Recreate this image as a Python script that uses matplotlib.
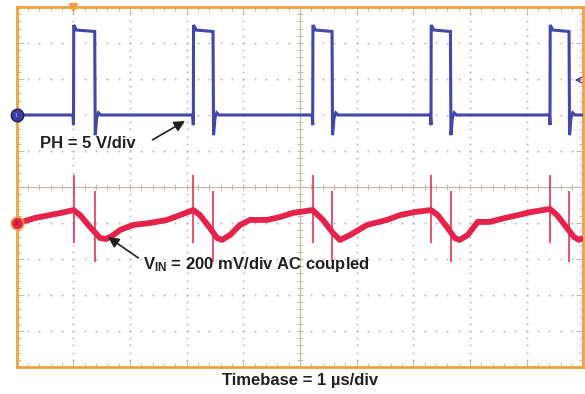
"""
 scope capture: PH switch node and VIN ripple
"""
import matplotlib
matplotlib.use('Agg')
import matplotlib.pyplot as plt
import numpy as np

plt.rcParams['font.family'] = ['Liberation Sans', 'DejaVu Sans']
plt.rcParams['mathtext.fontset'] = 'custom'
plt.rcParams['mathtext.rm'] = 'Liberation Sans'
plt.rcParams['mathtext.bf'] = 'Liberation Sans:bold'

# channel 1 : PH [V], 5 V/div
ph_rise = [1.006, 3.12, 5.227, 7.314, 9.414]   # us
ph_fall = [1.385, 3.473, 5.573, 7.662, 9.755]  # us
ph_low = 0.0
ph_high = [11.8, 11.6]      # start / end of pulse top
ph_over = 12.5              # overshoot on rising edge
ph_dip = -1.4               # dip before rising edge
ph_under = -2.8             # undershoot on falling edge

# channel 2 : VIN [mV], 200 mV/div AC coupled
vin_t = [0.000, 0.150, 0.326, 0.591, 0.856, 1.006, 1.121, 1.297, 1.473,
         1.579, 1.685, 1.827, 2.056, 2.356, 2.656, 2.886, 3.120, 3.238,
         3.414, 3.538, 3.626, 3.767, 3.944, 4.120, 4.420, 4.650, 4.879,
         5.227, 5.408, 5.585, 5.708, 5.885, 6.185, 6.538, 6.767, 7.032,
         7.314, 7.432, 7.609, 7.732, 7.820, 7.962, 8.138, 8.350, 8.620,
         8.850, 9.079, 9.414, 9.538, 9.714, 9.838, 9.926, 9.997]
vin_mv = [0, 11, 28, 44, 61, 72, 44, -22, -83,
          -89, -72, -39, -11, 0, 17, 44, 72, 44,
          -28, -83, -94, -67, -11, 17, 17, 33, 56,
          72, 17, -56, -94, -67, -11, 17, 44, 61,
          72, 44, -28, -83, -94, -67, 6, 6, 28,
          44, 61, 78, 44, -28, -78, -94, -83]
vin_spk_rise = [267, -111]  # mV, spike at PH rising edge
vin_spk_fall = [178, -217]  # mV, spike at PH falling edge

ch1_pos = 2.0    # div
ch2_pos = -1.0   # div
v_div1 = 5.0     # V/div
v_div2 = 200.0   # mV/div
trig_t = 1.0     # us
trig_lvl = 4.86  # V

# build PH trace
pt = [0.0]
pv = [ph_low]
for tr, tf in zip(ph_rise, ph_fall):
    pt += [tr - 0.01, tr, tr + 0.004, tr + 0.05, tf - 0.005, tf + 0.004,
           tf + 0.03, tf + 0.06, tf + 0.1]
    pv += [ph_low, ph_dip, ph_over, ph_high[0], ph_high[1], ph_under,
           -0.4, 0.3, ph_low]
pt.append(10.0)
pv.append(ph_low)
pt = np.array(pt)
pv = np.array(pv)

fig = plt.figure(figsize=(5.85, 3.94), dpi=100)
ax = fig.add_axes([16.5/585, 1-367/394, 566.7/585, 360/394])
ax.set_xlim(0, 10)
ax.set_ylim(-5, 5)

gcol = '#C4BCA8'
ax.set_xticks(np.arange(0, 11, 1))
ax.set_yticks(np.arange(-5, 6, 1))
ax.set_xticks(np.arange(0, 10.01, 0.2), minor=True)
ax.set_yticks(np.arange(-5, 5.01, 0.2), minor=True)
ax.tick_params(which='both', direction='in', top=True, right=True,
               labelleft=False, labelbottom=False, color=gcol, width=0.8)
ax.tick_params(which='major', length=5)
ax.tick_params(which='minor', length=3)
for s in ax.spines.values():
    s.set_color('#F2A03D')
    s.set_linewidth(2)

# dotted graticule
mn = np.arange(0.2, 10, 0.2)
mny = np.arange(-4.8, 5, 0.2)
for k in range(1, 10):
    if k != 5:
        ax.plot(np.full(len(mny), k), mny, ls='none', marker='s',
                ms=1.3, mew=0, color='#BDBDBD', zorder=1)
for k in range(-4, 5):
    if k != 0:
        ax.plot(mn, np.full(len(mn), k), ls='none', marker='s',
                ms=1.3, mew=0, color='#BDBDBD', zorder=1)

# center cross with ticks
ax.axhline(0, color=gcol, lw=0.9, zorder=1)
ax.axvline(5, color=gcol, lw=0.9, zorder=1)
ax.plot(mn, np.zeros(len(mn)), ls='none', marker='|', ms=5, mew=0.8,
        color=gcol, zorder=1)
ax.plot(np.full(len(mny), 5), mny, ls='none', marker='_', ms=5, mew=0.8,
        color=gcol, zorder=1)

# traces
ax.plot(pt, ch1_pos + pv/v_div1, color='#4446AA', lw=2.2, zorder=3,
        solid_joinstyle='miter')
vt = np.array(vin_t)
vv = np.array(vin_mv)
ax.plot(vt, ch2_pos + vv/v_div2, color='#E5224A', lw=4.2, zorder=4,
        solid_capstyle='butt', solid_joinstyle='round')
ax.vlines(ph_rise, ch2_pos + vin_spk_rise[1]/v_div2,
          ch2_pos + vin_spk_rise[0]/v_div2, color='#E5224A', lw=1.1,
          zorder=4)
ax.vlines(ph_fall, ch2_pos + vin_spk_fall[1]/v_div2,
          ch2_pos + vin_spk_fall[0]/v_div2, color='#E5224A', lw=1.1,
          zorder=4)

# channel markers
ax.plot(0, ch1_pos, 'o', ms=9, color='#3C3DA0', mec='#1E1E50', mew=1,
        clip_on=False, zorder=6)
ax.text(0, ch1_pos, '1', fontsize=4, color='#C0C0E0', ha='center',
        va='center', zorder=7)
ax.plot(0, ch2_pos, 'o', ms=9, color='#E5224A', mec='#F2A03D', mew=1.2,
        clip_on=False, zorder=6)
ax.text(0, ch2_pos, '2', fontsize=4, color='#401020', ha='center',
        va='center', zorder=7)

# trigger markers
ax.plot(trig_t, 5, 'v', ms=6, color='#F2A03D', clip_on=False, zorder=6)
ax.annotate('', xy=(9.8, ch1_pos + trig_lvl/v_div1),
            xytext=(10.0, ch1_pos + trig_lvl/v_div1),
            arrowprops=dict(arrowstyle='->', color='#3C3DA0', lw=1))

# labels
tc = '#231F20'
ax.text(0.415, 1.22, 'PH = 5 V/div', fontsize=12, fontweight='bold',
        color=tc, ha='left', va='center', zorder=8)
ax.annotate('', xy=(2.974, 1.833), xytext=(2.40, 1.31),
            arrowprops=dict(arrowstyle='-|>', color=tc, lw=1.2,
                            mutation_scale=16, shrinkA=0, shrinkB=0),
            zorder=8)
ax.text(2.23, -2.14, r'$\mathbf{V_{IN}}$ = 200 mV/div AC coupled',
        fontsize=12, fontweight='bold', color=tc, ha='left', va='center',
        zorder=8)
ax.annotate('', xy=(1.615, -1.389), xytext=(2.15, -1.97),
            arrowprops=dict(arrowstyle='-|>', color=tc, lw=1.2,
                            mutation_scale=16, shrinkA=0, shrinkB=0),
            zorder=8)
fig.text(300/585, 1-381/394, 'Timebase = 1 \u00b5s/div', fontsize=12,
         fontweight='bold', color=tc, ha='center', va='center')

fig.savefig('out.png', dpi=100)
